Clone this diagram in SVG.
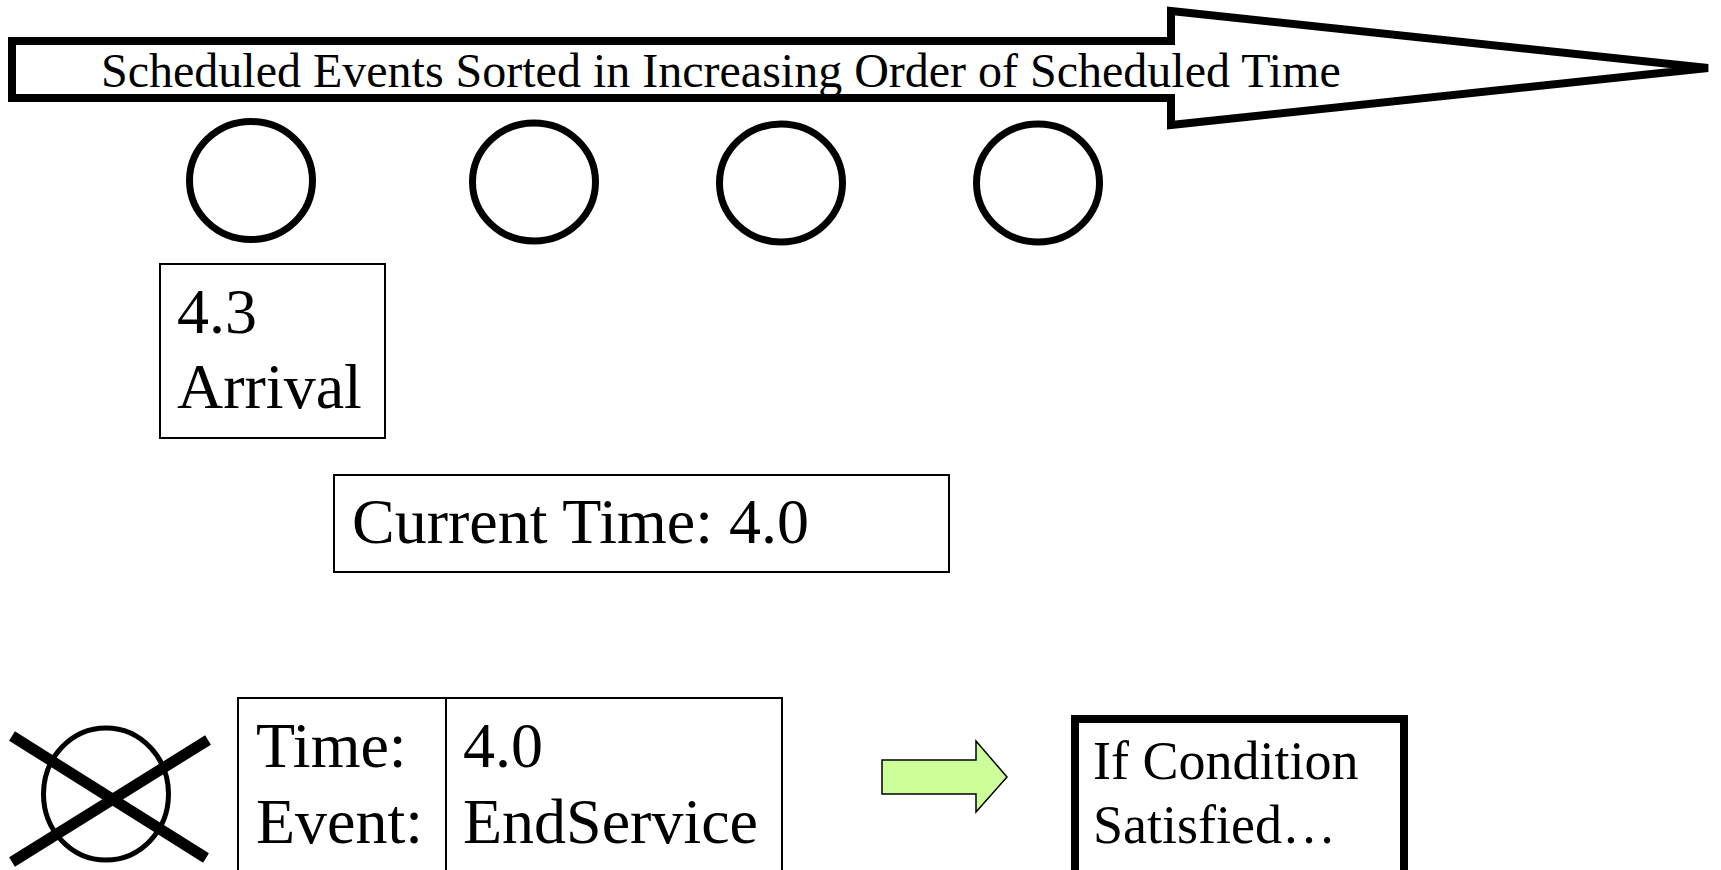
<svg xmlns="http://www.w3.org/2000/svg" width="1721" height="870" viewBox="0 0 1721 870">
  <style>
    .txt { font-family: "Liberation Serif", "Times New Roman", serif; fill: #000; }
    .evt { fill: none; stroke: #000; stroke-width: 7; }
    .box { fill: #fff; stroke: #000; stroke-width: 2; }
  </style>

  <!-- Big timeline arrow -->
  <g id="timeline">
    <polygon points="12,41 1171,41 1171,11 1708,68 1171,125 1171,98 12,98" fill="#fff" stroke="#000" stroke-width="8"/>
    <text class="txt" x="101" y="87" font-size="48">Scheduled Events Sorted in Increasing Order of Scheduled Time</text>
  </g>

  <!-- Scheduled event circles -->
  <g id="event1"><ellipse class="evt" cx="251" cy="180.5" rx="61.5" ry="59"/></g>
  <g id="event2"><ellipse class="evt" cx="534" cy="182" rx="61.5" ry="59"/></g>
  <g id="event3"><ellipse class="evt" cx="781" cy="183" rx="61.5" ry="59"/></g>
  <g id="event4"><ellipse class="evt" cx="1038" cy="183" rx="61.5" ry="59"/></g>

  <!-- Label of first event -->
  <g id="label1">
    <rect class="box" x="160" y="264" width="225" height="174"/>
    <text class="txt" font-size="64"><tspan x="177" y="333">4.3</tspan><tspan x="177" y="408">Arrival</tspan></text>
  </g>

  <!-- Clock -->
  <g id="clock">
    <rect class="box" x="334" y="475" width="615" height="97"/>
    <text class="txt" x="352" y="543" font-size="64">Current Time: 4.0</text>
  </g>

  <!-- Removed event -->
  <g id="removed">
    <ellipse cx="106" cy="794" rx="62.5" ry="66" fill="none" stroke="#000" stroke-width="5"/>
    <line x1="12" y1="736" x2="206" y2="858" stroke="#000" stroke-width="11"/>
    <line x1="12" y1="862" x2="208" y2="740" stroke="#000" stroke-width="11"/>
  </g>

  <!-- Current event record -->
  <g id="record">
    <rect class="box" x="238" y="698" width="544" height="200"/>
    <line x1="446" y1="698" x2="446" y2="870" stroke="#000" stroke-width="2"/>
    <text class="txt" font-size="64"><tspan x="256" y="767">Time:</tspan><tspan x="256" y="843">Event:</tspan></text>
    <text class="txt" font-size="64"><tspan x="463" y="767">4.0</tspan><tspan x="463" y="843">EndService</tspan></text>
  </g>

  <!-- Connector -->
  <g id="connectors">
    <polygon points="882,760 976,760 976,741 1007,777 976,812 976,794 882,794" fill="#CCFF99" stroke="#000" stroke-width="1.5"/>
  </g>

  <!-- Condition check -->
  <g id="condition">
    <rect x="1075" y="719" width="329" height="200" fill="#fff" stroke="#000" stroke-width="8"/>
    <text class="txt" font-size="54"><tspan x="1093" y="779">If Condition</tspan><tspan x="1093" y="843">Satisfied…</tspan></text>
  </g>
</svg>
